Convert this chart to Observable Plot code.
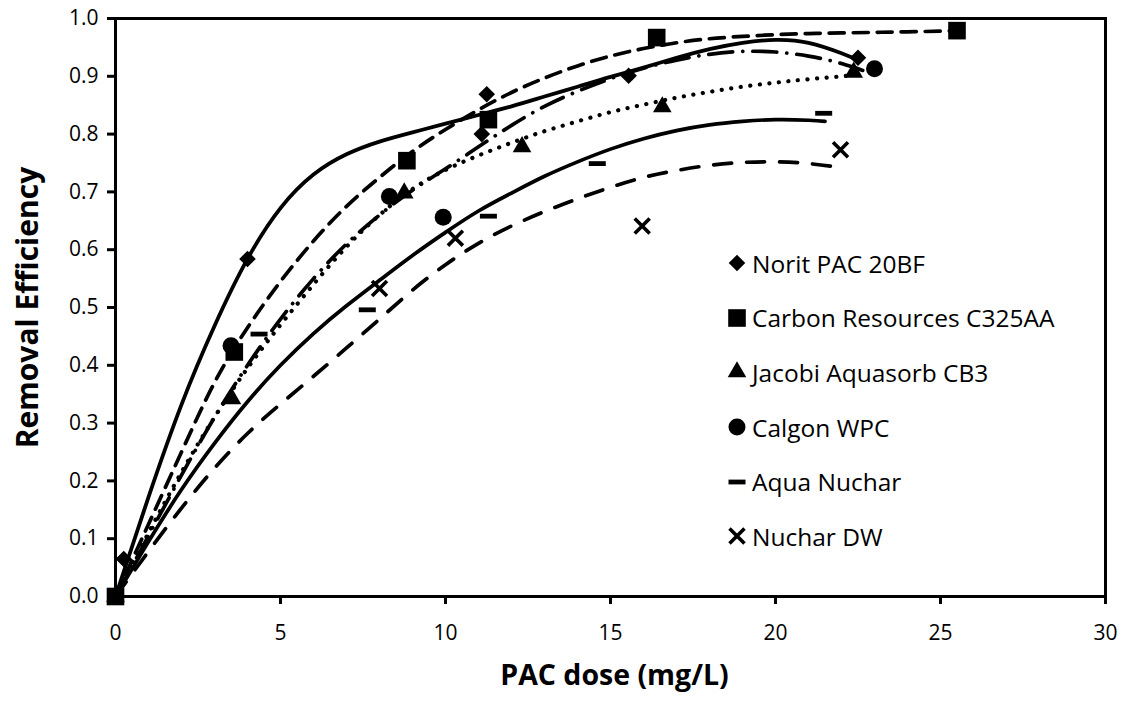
<!DOCTYPE html>
<html><head><meta charset="utf-8">
<script src="https://cdn.jsdelivr.net/npm/d3@7"></script>
<script src="https://cdn.jsdelivr.net/npm/@observablehq/plot@0.6"></script>
<style>
body{margin:0;background:#fff;}
#wrap{position:relative;width:1130px;height:704px;font-family:"Open Sans",sans-serif;}
#legend{position:absolute;left:727px;top:236px;}
.item{display:flex;align-items:center;height:54.6px;font-size:24.5px;color:#000;white-space:nowrap;}
.item svg{width:20px;height:20px;margin-right:5px;overflow:visible;flex:none;}
</style></head><body><div id="wrap"><div id="legend"></div></div>
<script>
// ---- data ----
const seriesNames = ["Norit PAC 20BF","Carbon Resources C325AA","Jacobi Aquasorb CB3","Calgon WPC","Aqua Nuchar","Nuchar DW"];
const xTicks = [0,5,10,15,20,25,30];
const yTicks = [0,0.1,0.2,0.3,0.4,0.5,0.6,0.7,0.8,0.9,1.0];

// measured points
const noritDose = [0, 0.25, 4.0, 11.1, 11.25, 15.55, 22.5];
const noritEff  = [0, 0.065, 0.584, 0.80, 0.869, 0.901, 0.932];
const carbonDose = [0, 3.6, 8.83, 11.3, 16.4, 25.5];
const carbonEff  = [0, 0.423, 0.754, 0.825, 0.967, 0.979];
const jacobiDose = [0, 3.53, 8.75, 12.32, 16.57, 22.37];
const jacobiEff  = [0, 0.342, 0.698, 0.778, 0.847, 0.907];
const calgonDose = [0, 3.5, 8.3, 9.93, 23.0];
const calgonEff  = [0, 0.434, 0.692, 0.656, 0.913];
const aquaDose = [0, 4.35, 7.63, 11.3, 14.6, 21.46];
const aquaEff  = [0, 0.454, 0.496, 0.658, 0.749, 0.836];
const nucharDose = [0, 8.0, 10.3, 15.96, 21.97];
const nucharEff  = [0, 0.533, 0.62, 0.641, 0.773];

// trendlines
const noritFitDose = [0,1,2,3,4,5,6,7,8,9,10,11,12,13,14,15,16,17,18,19,20,21,22,22.5];
const noritFitEff  = [0,0.172,0.332,0.468,0.584,0.672,0.73,0.765,0.787,0.803,0.818,0.833,0.848,0.865,0.882,0.899,0.915,0.932,0.947,0.958,0.963,0.958,0.94,0.928];
const carbonFitDose = [0,1,2,3,4,5,6,7,8,9,10,11,12,13,14,15,16,17,18,19,20,21,22,23,24,25,25.5];
const carbonFitEff  = [0,0.125,0.25,0.37,0.465,0.545,0.615,0.675,0.725,0.77,0.808,0.842,0.872,0.897,0.918,0.935,0.948,0.958,0.965,0.969,0.972,0.974,0.975,0.976,0.977,0.978,0.979];
const jacobiFitDose = [0,1,2,3,4,5,6,7,8,9,10,11,12,13,14,15,16,17,18,19,20,21,22,22.4];
const jacobiFitEff  = [0,0.11,0.215,0.31,0.395,0.47,0.54,0.605,0.66,0.705,0.738,0.763,0.785,0.805,0.822,0.838,0.851,0.863,0.873,0.882,0.889,0.895,0.90,0.903];
const calgonFitDose = [0,1,2,3,4,5,6,7,8,9,10,11,12,13,14,15,16,17,18,19,20,21,22,23];
const calgonFitEff  = [0,0.105,0.21,0.31,0.40,0.48,0.55,0.61,0.66,0.703,0.74,0.778,0.815,0.848,0.874,0.896,0.914,0.928,0.938,0.943,0.942,0.935,0.922,0.903];
const aquaFitDose = [0,1,2,3,4,5,6,7,8,9,10,11,12,13,14,15,16,17,18,19,20,21,21.5];
const aquaFitEff  = [0,0.095,0.185,0.265,0.337,0.40,0.455,0.503,0.547,0.59,0.63,0.667,0.698,0.727,0.752,0.774,0.792,0.806,0.816,0.822,0.825,0.824,0.822];
const nucharFitDose = [0,1,2,3,4,5,6,7,8,9,10,11,12,13,14,15,16,17,18,19,20,21,22];
const nucharFitEff  = [0,0.078,0.153,0.222,0.282,0.333,0.381,0.43,0.48,0.53,0.574,0.611,0.641,0.666,0.688,0.708,0.725,0.737,0.746,0.751,0.752,0.749,0.742];

// ---- styling ----
const dashSymbol = {draw(ctx){ ctx.rect(-8.5,-2.4,17,4.8); }};
const styles = [
  {type: d3.symbolDiamond2, size: 175, stroke: false, dash: null},
  {type: d3.symbolSquare, size: 310, stroke: false, dash: "15,9"},
  {type: d3.symbolTriangle, size: 150, stroke: false, dash: "0.1,9.5"},
  {type: d3.symbolCircle, size: 227, stroke: false, dash: "24,10,0.1,10"},
  {type: dashSymbol, size: 100, stroke: false, dash: null},
  {type: d3.symbolTimes, size: 148, stroke: true, dash: "18,15"}
];
const lineWidths = [3.8, 3.7, 4.2, 3.7, 3.7, 3.7];

const pts = [
  [noritDose, noritEff],[carbonDose, carbonEff],[jacobiDose, jacobiEff],
  [calgonDose, calgonEff],[aquaDose, aquaEff],[nucharDose, nucharEff]
];
const fits = [
  [noritFitDose, noritFitEff],[carbonFitDose, carbonFitEff],[jacobiFitDose, jacobiFitEff],
  [calgonFitDose, calgonFitEff],[aquaFitDose, aquaFitEff],[nucharFitDose, nucharFitEff]
];
const toRows = ([xs, ys]) => xs.map((x, i) => ({x, y: ys[i]}));

const marks = [];
fits.forEach((f, i) => {
  marks.push(Plot.line(toRows(f), {x: "x", y: "y", curve: "natural", stroke: "black",
    strokeWidth: lineWidths[i], strokeLinecap: "round", strokeDasharray: styles[i].dash || undefined}));
});
pts.forEach((p, i) => {
  const s = styles[i];
  const r = Math.sqrt(s.size / Math.PI);
  marks.push(Plot.dot(toRows(p), s.stroke
    ? {x: "x", y: "y", symbol: s.type, r, stroke: "black", strokeWidth: 3.6, fill: "none"}
    : {x: "x", y: "y", symbol: s.type, r, fill: "black", stroke: "none"}));
});

const chart = Plot.plot({
  width: 1130, height: 704,
  marginLeft: 115, marginRight: 25, marginTop: 18, marginBottom: 108,
  style: {fontFamily: "'Open Sans', sans-serif", background: "white", color: "black"},
  x: {domain: [0, 30]},
  y: {domain: [0, 1]},
  marks: [
    Plot.axisX({ticks: xTicks, tickSize: 8, tickPadding: 21, label: null, strokeWidth: 3, fontSize: 21, tickFormat: d3.format("d")}),
    Plot.axisY({ticks: yTicks, tickSize: 8, tickPadding: 9, label: null, strokeWidth: 3, fontSize: 21, tickFormat: d3.format(".1f")}),
    ...marks,
    Plot.frame({stroke: "black", strokeWidth: 3}),
    Plot.text(["PAC dose (mg/L)"], {text: d => d, frameAnchor: "bottom", dy: 79, dx: 4, lineAnchor: "middle", fontSize: 28.5, fontWeight: "bold"}),
    Plot.text(["Removal Efficiency"], {text: d => d, frameAnchor: "left", dx: -87, rotate: -90, lineAnchor: "middle", textAnchor: "middle", fontSize: 30, fontWeight: "bold"})
  ]
});
document.getElementById("wrap").prepend(chart);

// legend
const legend = d3.select("#legend");
seriesNames.forEach((name, i) => {
  const s = styles[i];
  const item = legend.append("div").attr("class", "item");
  const svg = item.append("svg").attr("viewBox", "-10 -10 20 20");
  const path = svg.append("path").attr("d", d3.symbol(s.type, s.size)());
  if (s.stroke) path.attr("fill", "none").attr("stroke", "black").attr("stroke-width", 3.6);
  else path.attr("fill", "black");
  item.append("span").text(name);
});
</script></body></html>
